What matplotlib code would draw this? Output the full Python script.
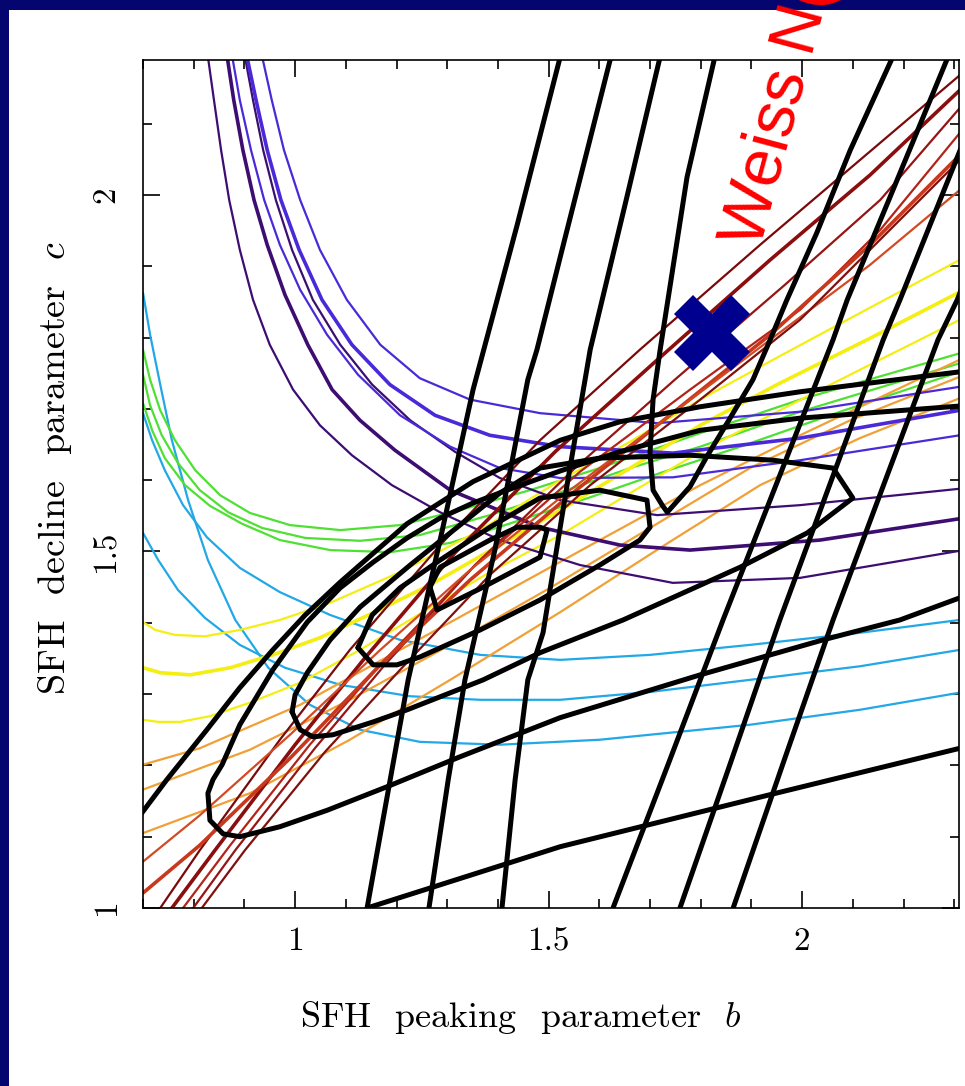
import matplotlib
matplotlib.use("Agg")
import matplotlib.pyplot as plt
from matplotlib.patches import Rectangle
from matplotlib.ticker import MultipleLocator

# ---------------- data (b = SFH peaking parameter, c = SFH decline parameter) ----------------
# black near-vertical constraint curves
steep_b = [
    [1.523, 1.438, 1.351, 1.286, 1.223, 1.142],
    [1.623, 1.530, 1.477, 1.459, 1.394, 1.335, 1.302, 1.264],
    [1.720, 1.653, 1.582, 1.538, 1.489, 1.459, 1.434, 1.408],
    [2.288, 2.171, 2.089, 2.061, 1.844, 1.736, 1.627],
    [2.371, 2.310, 2.193, 2.160, 1.956, 1.858, 1.759],
    [2.371, 2.306, 2.268, 2.061, 1.962, 1.864],
    [1.828, 1.773, 1.720, 1.706, 1.700, 1.706, 1.724, 1.734, 1.779, 1.812, 1.852, 1.903, 1.937, 1.970, 2.029, 2.095, 2.179],
]
steep_c = [
    [2.194, 1.958, 1.727, 1.516, 1.320, 1.000],
    [2.194, 1.933, 1.783, 1.741, 1.502, 1.320, 1.180, 1.000],
    [2.194, 1.993, 1.783, 1.600, 1.386, 1.320, 1.180, 1.000],
    [2.194, 1.993, 1.853, 1.797, 1.404, 1.202, 1.000],
    [2.168, 2.060, 1.853, 1.797, 1.404, 1.202, 1.000],
    [1.972, 1.853, 1.797, 1.404, 1.202, 1.000],
    [2.194, 2.025, 1.783, 1.713, 1.638, 1.586, 1.565, 1.555, 1.591, 1.633, 1.680, 1.741, 1.797, 1.853, 1.947, 2.063, 2.194],
]

# black likelihood contours
contour_b = [
    [0.690, 0.747, 0.826, 0.891, 0.956, 1.020, 1.089, 1.221, 1.351, 1.523, 1.641, 1.799, 1.996, 2.311, 2.341],
    [1.142, 1.306, 1.523, 1.937, 2.311, 2.341],
    [2.341, 2.311, 2.193, 2.041, 1.799, 1.523, 1.325, 1.181, 1.063, 0.970, 0.891, 0.858, 0.832, 0.828, 0.838,
     0.856, 0.891, 0.956, 1.024, 1.089, 1.154, 1.221, 1.286, 1.351, 1.418, 1.523, 1.641, 1.799, 1.996, 2.311, 2.341],
    [0.994, 1.000, 1.024, 1.069, 1.128, 1.227, 1.325, 1.404, 1.483, 1.601, 1.779, 1.943, 2.061, 2.100, 2.010,
     1.878, 1.647, 1.483, 1.371, 1.221, 1.154, 1.075, 1.035, 1.010, 0.994],
    [1.124, 1.152, 1.207, 1.286, 1.384, 1.483, 1.601, 1.694, 1.700, 1.680, 1.601, 1.483, 1.365, 1.246, 1.201, 1.154, 1.124],
    [1.266, 1.280, 1.371, 1.483, 1.497, 1.483, 1.438, 1.384, 1.286, 1.266],
]
contour_c = [
    [1.126, 1.180, 1.250, 1.309, 1.362, 1.411, 1.457, 1.539, 1.598, 1.656, 1.682, 1.703, 1.724, 1.752, 1.755],
    [1.000, 1.037, 1.086, 1.159, 1.224, 1.230],
    [1.442, 1.435, 1.404, 1.376, 1.327, 1.267, 1.212, 1.170, 1.137, 1.114, 1.100, 1.104, 1.123, 1.161, 1.180,
     1.201, 1.257, 1.334, 1.401, 1.449, 1.485, 1.519, 1.547, 1.568, 1.586, 1.613, 1.640, 1.670, 1.687, 1.704, 1.706],
    [1.275, 1.299, 1.330, 1.376, 1.422, 1.481, 1.537, 1.582, 1.617, 1.631, 1.635, 1.628, 1.617, 1.575, 1.526,
     1.478, 1.404, 1.358, 1.320, 1.278, 1.261, 1.243, 1.240, 1.250, 1.275],
    [1.365, 1.411, 1.449, 1.488, 1.534, 1.575, 1.586, 1.572, 1.534, 1.516, 1.481, 1.432, 1.390, 1.352, 1.341, 1.341, 1.365],
    [1.450, 1.418, 1.450, 1.492, 1.530, 1.534, 1.534, 1.516, 1.478, 1.450],
]

# dark purple curves
purple_b = [
    [0.828, 0.840, 0.854, 0.870, 0.891, 0.917, 0.950, 0.996, 1.049, 1.112, 1.191, 1.286, 1.404, 1.562, 1.745, 1.996, 2.311],
    [0.866, 0.879, 0.897, 0.919, 0.945, 0.980, 1.025, 1.073, 1.128, 1.197, 1.306, 1.483, 1.641, 1.779, 2.035, 2.311],
    [0.901, 0.917, 0.937, 0.962, 0.994, 1.035, 1.089, 1.152, 1.227, 1.315, 1.404, 1.523, 1.714, 1.996, 2.311],
]
purple_c = [
    [2.194, 2.133, 2.063, 1.993, 1.923, 1.853, 1.790, 1.727, 1.677, 1.635, 1.593, 1.555, 1.516, 1.481, 1.456, 1.463, 1.501],
    [2.194, 2.133, 2.063, 1.993, 1.930, 1.860, 1.790, 1.727, 1.684, 1.642, 1.586, 1.534, 1.509, 1.502, 1.516, 1.546],
    [2.194, 2.133, 2.063, 1.993, 1.923, 1.853, 1.790, 1.734, 1.684, 1.640, 1.603, 1.572, 1.551, 1.565, 1.588],
]

# blue-violet curves
violet_b = [
    [0.876, 0.891, 0.913, 0.939, 0.970, 1.010, 1.063, 1.124, 1.207, 1.306, 1.404, 1.523, 1.745, 1.996, 2.311],
    [0.905, 0.923, 0.945, 0.972, 1.008, 1.053, 1.112, 1.187, 1.276, 1.384, 1.523, 1.745, 1.996, 2.311],
    [0.935, 0.954, 0.978, 1.010, 1.049, 1.102, 1.168, 1.246, 1.345, 1.483, 1.714, 1.996, 2.311],
]
violet_c = [
    [2.194, 2.133, 2.063, 1.993, 1.930, 1.867, 1.804, 1.748, 1.691, 1.647, 1.617, 1.603, 1.604, 1.628, 1.663],
    [2.194, 2.133, 2.063, 1.993, 1.923, 1.853, 1.790, 1.734, 1.691, 1.663, 1.647, 1.638, 1.659, 1.698],
    [2.194, 2.133, 2.063, 1.993, 1.923, 1.853, 1.790, 1.743, 1.713, 1.694, 1.680, 1.696, 1.731],
]

# green curves
green_b = [
    [0.700, 0.714, 0.734, 0.763, 0.803, 0.852, 0.911, 0.990, 1.089, 1.207, 1.325, 1.463, 1.601, 1.799, 1.996, 2.311],
    [0.700, 0.714, 0.737, 0.769, 0.812, 0.868, 0.935, 1.020, 1.128, 1.246, 1.384, 1.523, 1.661, 1.799, 1.996, 2.311],
    [0.700, 0.718, 0.743, 0.783, 0.832, 0.895, 0.970, 1.069, 1.187, 1.306, 1.444, 1.582, 1.720, 1.878, 2.075, 2.311],
]
green_c = [
    [1.783, 1.741, 1.698, 1.656, 1.614, 1.579, 1.554, 1.537, 1.530, 1.537, 1.558, 1.586, 1.617, 1.666, 1.713, 1.778],
    [1.748, 1.705, 1.663, 1.624, 1.586, 1.555, 1.533, 1.519, 1.515, 1.523, 1.551, 1.583, 1.617, 1.647, 1.696, 1.764],
    [1.708, 1.670, 1.631, 1.593, 1.564, 1.539, 1.516, 1.502, 1.499, 1.512, 1.544, 1.576, 1.610, 1.647, 1.696, 1.752],
]

# cyan curves
cyan_b = [
    [0.700, 0.718, 0.743, 0.779, 0.826, 0.891, 0.970, 1.069, 1.207, 1.365, 1.523, 1.700, 1.897, 2.114, 2.311],
    [0.700, 0.730, 0.769, 0.822, 0.891, 0.980, 1.089, 1.227, 1.365, 1.523, 1.700, 1.897, 2.114, 2.311],
    [0.700, 0.714, 0.734, 0.757, 0.789, 0.828, 0.882, 0.947, 1.029, 1.128, 1.246, 1.404, 1.601, 1.897, 2.114, 2.311],
]
cyan_c = [
    [1.694, 1.656, 1.614, 1.565, 1.520, 1.477, 1.443, 1.411, 1.376, 1.355, 1.348, 1.355, 1.369, 1.386, 1.404],
    [1.526, 1.488, 1.446, 1.407, 1.369, 1.337, 1.313, 1.297, 1.292, 1.292, 1.303, 1.320, 1.339, 1.362],
    [1.863, 1.804, 1.734, 1.656, 1.572, 1.488, 1.404, 1.337, 1.285, 1.250, 1.233, 1.229, 1.236, 1.257, 1.278, 1.302],
]

# yellow curves
yellow_b = [
    [0.700, 0.724, 0.763, 0.822, 0.891, 0.970, 1.069, 1.207, 1.365, 1.523, 1.661, 1.799, 1.956, 2.134, 2.311],
    [0.700, 0.734, 0.793, 0.872, 0.956, 1.049, 1.154, 1.266, 1.404, 1.523, 1.661, 1.799, 1.956, 2.134, 2.311],
    [0.700, 0.730, 0.773, 0.832, 0.911, 1.010, 1.128, 1.252, 1.384, 1.523, 1.661, 1.799, 1.956, 2.134, 2.311],
]
yellow_c = [
    [1.401, 1.390, 1.383, 1.381, 1.390, 1.404, 1.428, 1.471, 1.530, 1.600, 1.654, 1.713, 1.774, 1.842, 1.909],
    [1.337, 1.330, 1.327, 1.337, 1.355, 1.379, 1.414, 1.453, 1.509, 1.558, 1.617, 1.677, 1.736, 1.799, 1.864],
    [1.264, 1.261, 1.261, 1.269, 1.288, 1.316, 1.362, 1.415, 1.471, 1.523, 1.582, 1.640, 1.698, 1.762, 1.825],
]

# orange curves
orange_b = [
    [0.700, 0.812, 1.010, 1.207, 1.404, 1.601, 1.799, 1.996, 2.311],
    [0.700, 0.911, 1.108, 1.306, 1.503, 1.700, 1.897, 2.095, 2.311],
    [0.700, 0.911, 1.108, 1.306, 1.523, 1.720, 1.917, 2.114, 2.311],
]
orange_c = [
    [1.201, 1.224, 1.285, 1.362, 1.439, 1.516, 1.593, 1.663, 1.769],
    [1.166, 1.222, 1.292, 1.369, 1.449, 1.533, 1.617, 1.684, 1.745],
    [1.105, 1.161, 1.236, 1.320, 1.415, 1.505, 1.593, 1.659, 1.715],
]

# red / dark red curves
red_b = [
    [0.734, 0.812, 0.970, 1.108, 1.286, 1.483, 1.680, 1.917, 2.114, 2.311],
    [0.757, 0.842, 1.000, 1.138, 1.315, 1.513, 1.710, 1.937, 2.134, 2.311],
    [0.799, 0.882, 1.039, 1.177, 1.355, 1.552, 1.749, 1.966, 2.154, 2.311],
    [0.779, 0.872, 1.029, 1.177, 1.355, 1.562, 1.779, 1.996, 2.154, 2.311],
    [0.700, 0.812, 0.990, 1.168, 1.345, 1.542, 1.739, 1.937, 2.134, 2.311],
    [0.700, 0.812, 0.990, 1.168, 1.345, 1.542, 1.739, 1.937, 2.134, 2.311],
    [0.816, 0.901, 1.059, 1.207, 1.384, 1.582, 1.799, 1.996, 2.173, 2.311],
]
red_c = [
    [1.000, 1.081, 1.236, 1.362, 1.509, 1.656, 1.783, 1.930, 2.049, 2.168],
    [1.000, 1.081, 1.229, 1.351, 1.498, 1.640, 1.766, 1.909, 2.028, 2.147],
    [1.000, 1.081, 1.224, 1.341, 1.481, 1.617, 1.741, 1.874, 1.993, 2.122],
    [1.000, 1.088, 1.229, 1.348, 1.481, 1.612, 1.727, 1.839, 1.951, 2.087],
    [1.021, 1.088, 1.210, 1.341, 1.460, 1.579, 1.691, 1.804, 1.930, 2.056],
    [1.065, 1.130, 1.243, 1.362, 1.474, 1.586, 1.691, 1.797, 1.902, 2.007],
    [1.000, 1.081, 1.219, 1.334, 1.467, 1.593, 1.713, 1.825, 1.951, 2.049],
]

# Weiss et al. point
weiss_b = [1.822]
weiss_c = [1.806]

x_ticks = [1.0, 1.5, 2.0]
x_ticklabels = ["1", "1.5", "2"]
y_ticks = [1.0, 1.5, 2.0]
y_ticklabels = ["1", "1.5", "2"]

# ---------------- styles ----------------
purple_widths = [1.6, 2.6, 1.6]
violet_widths = [1.6, 2.6, 1.6]
green_widths = [1.6, 1.6, 1.6]
cyan_widths = [1.6, 1.6, 1.6]
yellow_widths = [1.6, 2.6, 1.6]
orange_widths = [1.6, 1.6, 1.6]
red_colors = ["#7a0a0a", "#8a0e0e", "#961414", "#b22418", "#c8381c", "#d24a24", "#80100e"]
red_widths = [1.6, 2.6, 1.6, 1.6, 2.6, 1.6, 1.6]

plt.rcParams["font.family"] = "cmr10"
plt.rcParams["mathtext.fontset"] = "cm"
plt.rcParams["axes.unicode_minus"] = False

W, H = 965, 1086
fig = plt.figure(figsize=(W / 100, H / 100), dpi=100, facecolor="#050570")
fig.patches.append(Rectangle((9 / W, 0), 1, 1 - 10 / H, transform=fig.transFigure,
                             facecolor="white", edgecolor="none", zorder=-10))

ax = fig.add_axes([143 / W, 1 - 908 / H, 816.3 / W, 848.5 / H])
ax.set_xlim(0.7, 2.31)
ax.set_ylim(1.0, 2.19)

def draw(bs, cs, color, widths, z):
    for i, (b, c) in enumerate(zip(bs, cs)):
        col = color[i] if isinstance(color, list) else color
        ax.plot(b, c, color=col, lw=widths[i], zorder=z,
                solid_joinstyle="round", solid_capstyle="round")

draw(cyan_b, cyan_c, "#22a8e6", cyan_widths, 2)
draw(green_b, green_c, "#4ee032", green_widths, 2)
draw(yellow_b, yellow_c, "#f4ee12", yellow_widths, 2)
draw(orange_b, orange_c, "#f0a035", orange_widths, 2)
draw(purple_b, purple_c, "#3d0d72", purple_widths, 2.2)
draw(violet_b, violet_c, "#4a2ad8", violet_widths, 2.2)
draw(red_b, red_c, red_colors, red_widths, 2.4)
draw(steep_b, steep_c, "black", [3.6] * len(steep_b), 3)
draw(contour_b, contour_c, "black", [3.6] * len(contour_b), 3)

ax.plot(weiss_b, weiss_c, marker="X", color="#00008f", markersize=55,
        markeredgewidth=0, linestyle="none", zorder=5, clip_on=False)

ax.text(1.917, 1.924, "Weiss N(z)", color="red", fontsize=48,
        family="Liberation Sans",
        rotation=75, rotation_mode="anchor", ha="left", va="baseline",
        zorder=6, clip_on=False)

# axes styling
for s in ax.spines.values():
    s.set_linewidth(1.2)
ax.set_xticks(x_ticks)
ax.set_xticklabels(x_ticklabels)
ax.set_yticks(y_ticks)
ax.set_yticklabels(y_ticklabels, rotation=90, va="center")
ax.xaxis.set_minor_locator(MultipleLocator(0.1))
ax.yaxis.set_minor_locator(MultipleLocator(0.1))
ax.tick_params(which="both", direction="in", top=True, right=True, width=1.2)
ax.tick_params(which="major", length=12, labelsize=24)
ax.tick_params(which="minor", length=6.5)
ax.tick_params(axis="x", which="major", pad=14)
ax.tick_params(axis="y", which="major", pad=16)

fig.text(521 / W, 1 - 1018 / H, "SFH  peaking  parameter  $b$", fontsize=26,
         ha="center", va="center")
fig.text(55 / W, 1 - 468 / H, "SFH  decline  parameter  $c$", fontsize=27.5,
         ha="center", va="center", rotation=90)

fig.savefig("out.png", dpi=100, facecolor=fig.get_facecolor())
